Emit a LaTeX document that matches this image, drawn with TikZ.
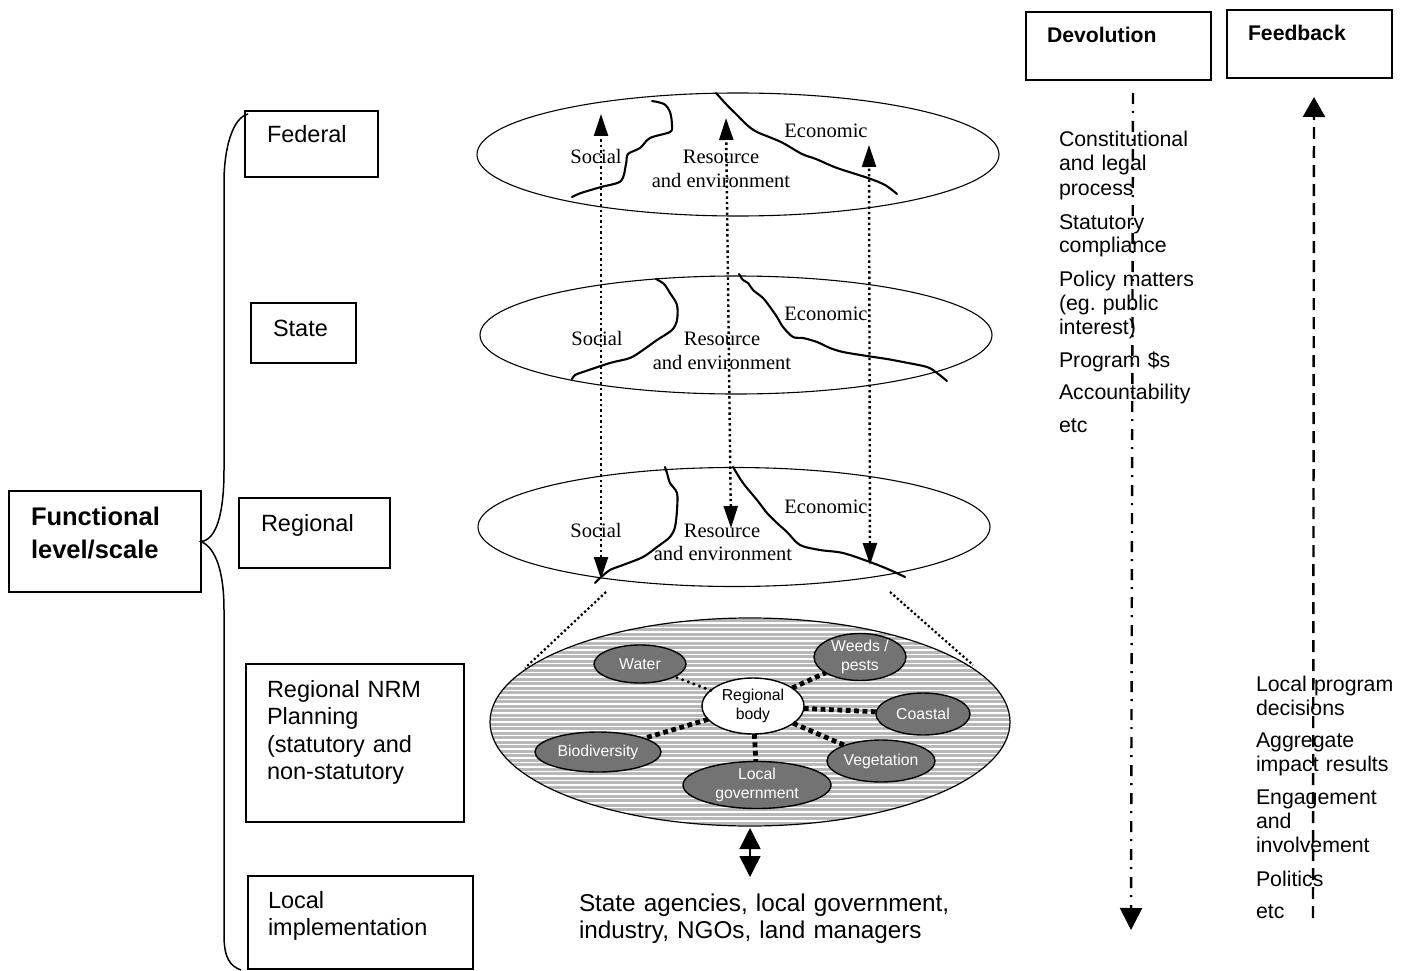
\documentclass[tikz,border=0pt]{standalone}
\usepackage{fontspec}
\setmainfont{Liberation Serif}
\newfontfamily\arialfont{Liberation Sans}
\usetikzlibrary{shapes.geometric,arrows.meta}

\begin{document}
\frenchspacing
\begin{tikzpicture}[x=1pt,y=-1pt,
  every node/.style={inner sep=0pt, outer sep=0pt},
  lvlbox/.style={draw, line width=1.5pt, rectangle},
  boxtext/.style={anchor=base west, align=left, text width=#1,
    font=\arialfont\fontsize{23.5}{27.5}\selectfont},
  boxtext/.default=220pt,
  headtext/.style={anchor=base west, font=\arialfont\bfseries\fontsize{21.2}{24}\selectfont},
  listtext/.style={anchor=base west, align=left, text width=150pt,
    font=\arialfont\fontsize{21.3}{24}\selectfont},
  lvlell/.style={draw, ellipse, line width=1.1pt},
  domtext/.style={anchor=base, font=\fontsize{20.5}{23}\selectfont},
  boundary/.style={line width=2.1pt, line join=round, line cap=round},
  linkarrow/.style={line width=2.4pt, dash pattern=on 2.4pt off 3pt,
    {Triangle[length=22pt,width=14pt]}-{Triangle[length=22pt,width=14pt]}},
  funnel/.style={line width=2.2pt, dash pattern=on 2.2pt off 2.4pt},
  theme/.style={draw, ellipse, line width=1.4pt, fill=black!55, text=white,
    align=center, font=\arialfont\fontsize{15.8}{18.5}\selectfont},
  hub/.style={theme, fill=white, text=black},
  thicklink/.style={line width=4.8pt, dash pattern=on 4.8pt off 3.6pt},
  roundlink/.style={line width=3.4pt, line cap=round, dash pattern=on 0pt off 6pt},
  stripe/.style={line width=3pt, draw=black!28}
]
\useasboundingbox (0,0) rectangle (1406,971);

% ---------- functional levels on the left ----------
\node[lvlbox, minimum width=192pt, minimum height=101pt] (functional) at (105,541.5) {};
\node[anchor=base west, align=left, text width=180pt,
      font=\arialfont\bfseries\fontsize{25.5}{33}\selectfont] (functional-t) at (31,525)
      {Functional\\level/scale};

\node[lvlbox, minimum width=133pt, minimum height=66pt] (federal) at (311.5,144) {};
\node[boxtext] (federal-t) at (267,143) {Federal};

\node[lvlbox, minimum width=105pt, minimum height=60pt] (state) at (303.5,333) {};
\node[boxtext] (state-t) at (273,336) {State};

\node[lvlbox, minimum width=151pt, minimum height=70pt] (regional) at (314.5,533) {};
\node[boxtext] (regional-t) at (261,531) {Regional};

\node[lvlbox, minimum width=218pt, minimum height=158pt] (nrm) at (355,743) {};
\node[boxtext] (nrm-t) at (267,697)
  {Regional NRM\\Planning\\(statutory and\\non-statutory};

\node[lvlbox, minimum width=225pt, minimum height=93pt] (local) at (360.5,922.5) {};
\node[boxtext] (local-t) at (268,908) {Local\\implementation};

% curly bracket gathering the levels
\draw[line width=1.5pt]
  (248,114) .. controls (232,118) and (224,150) .. (224,182)
  -- (224,470) .. controls (224,515) and (216,540) .. (functional.east)
  .. controls (216,548) and (224,572) .. (224,610)
  -- (224,935) .. controls (224,958) and (230,966) .. (241,970);

% ---------- the three policy domains at each level ----------
\node[lvlell, minimum width=522pt, minimum height=123pt] (fedE) at (738,154.5) {};
\node[lvlell, minimum width=512pt, minimum height=118pt] (staE) at (736,335) {};
\node[lvlell, minimum width=512pt, minimum height=119pt] (regE) at (734,527) {};

% federal domains
\draw[boundary] plot[smooth] coordinates {(572,197) (581,193) (601,187) (621,181)
  (626,164) (628,154) (640,148) (650,138) (670,132) (672,125) (670,112) (664,104) (652,101)};
\draw[boundary] plot[smooth] coordinates {(716,93) (726,104) (738,116) (747,125)
  (757,132) (781,142) (802,154) (816,159) (837,168) (868,178) (885,185) (897,194)};
\node[domtext] (fed-soc) at (596,164) {Social};
\node[domtext] (fed-res) at (721,164) {Resource};
\node[domtext] (fed-env) at (721,188) {and environment};
\node[domtext] (fed-eco) at (826,138) {Economic};

% state domains
\draw[boundary] plot[smooth] coordinates {(572,379) (575,375) (583,372) (610,363)
  (630,358) (643,350) (657,340) (672,330) (677,320) (677,305) (670,293) (664,284) (656,279)};
\draw[boundary] plot[smooth] coordinates {(739,274) (743,280) (748,283) (753,290)
  (763,298) (770,307) (777,317) (783,327) (793,337) (803,338) (817,342) (830,348)
  (843,352) (867,356) (887,359) (903,362) (927,367) (937,373) (947,381)};
\node[domtext] (sta-soc) at (597,345) {Social};
\node[domtext] (sta-res) at (722,345) {Resource};
\node[domtext] (sta-env) at (722,369) {and environment};
\node[domtext] (sta-eco) at (826,320) {Economic};

% regional domains
\draw[boundary] plot[smooth] coordinates {(595,583) (600,578) (610,570) (623,565)
  (643,557) (657,547) (670,537) (675,527) (677,510) (677,493) (670,483) (667,473) (665,467)};
\draw[boundary] plot[smooth] coordinates {(733,467) (743,483) (757,500) (767,513)
  (777,523) (787,532) (800,545) (820,550) (843,553) (870,562) (890,570) (905,577)};
\node[domtext] (reg-soc) at (596,537) {Social};
\node[domtext] (reg-res) at (722,537) {Resource};
\node[domtext] (reg-env) at (723,560) {and environment};
\node[domtext] (reg-eco) at (826,513) {Economic};

% links between federal and regional domains
\coordinate (socTop) at (601,114);
\coordinate (socBot) at (601,579);
\coordinate (resTop) at (726,118);
\coordinate (resBot) at (731,528);
\coordinate (ecoTop) at (869,145);
\coordinate (ecoBot) at (870,565);
\draw[linkarrow] (socBot) -- (socTop);
\draw[linkarrow] (resBot) -- (resTop);
\draw[linkarrow] (ecoBot) -- (ecoTop);

% ---------- regional NRM planning ----------
\begin{scope}
  \clip (750,722) ellipse [x radius=260, y radius=104];
  \foreach \yy in {616,620.5,...,830} \draw[stripe] (488,\yy) -- (1012,\yy);
\end{scope}
\node[lvlell, line width=1.2pt, minimum width=520pt, minimum height=208pt] (nrmE) at (750,722) {};

\coordinate (funLtop) at (606,592);
\coordinate (funLbot) at (525,668);
\coordinate (funRtop) at (890,592);
\coordinate (funRbot) at (973,665);
\draw[funnel] (funLtop) -- (funLbot);
\draw[funnel] (funRtop) -- (funRbot);

\node[hub, minimum width=102pt, minimum height=56pt] (rbody) at (753,706) {Regional\\body};
\node[theme, minimum width=92pt, minimum height=38pt] (water) at (640,664) {Water};
\node[theme, minimum width=92pt, minimum height=46pt] (weeds) at (860,657) {Weeds /\\pests};
\node[theme, minimum width=94pt, minimum height=42pt] (coastal) at (923,714) {Coastal};
\node[theme, minimum width=126pt, minimum height=40pt] (biodiv) at (598,752) {Biodiversity};
\node[theme, minimum width=108pt, minimum height=42pt] (veget) at (881,761) {Vegetation};
\node[theme, minimum width=148pt, minimum height=44pt] (localgov) at (757,785) {Local\\government};

\draw[roundlink] (rbody) -- (water);
\draw[thicklink] (rbody) -- (weeds);
\draw[thicklink] (rbody) -- (coastal);
\draw[thicklink] (rbody) -- (veget);
\draw[thicklink] (rbody) -- (localgov);
\draw[thicklink] (rbody) -- (biodiv);

% local implementation partners
\node[anchor=base west, align=left, text width=400pt,
      font=\arialfont\fontsize{24.3}{27}\selectfont] (partners) at (579,911)
  {State agencies, local government,\\industry, NGOs, land managers};
\coordinate (partTop) at (750,828);
\coordinate (partBot) at (750,877);
\draw[line width=1.4pt, {Triangle[length=21pt,width=21pt]}-{Triangle[length=21pt,width=21pt]}]
  (partTop) -- (partBot);

% ---------- devolution and feedback ----------
\node[lvlbox, minimum width=185pt, minimum height=68pt] (devolution) at (1118.5,46) {};
\node[headtext] (devolution-t) at (1047,43) {Devolution};
\node[lvlbox, minimum width=165pt, minimum height=68pt] (feedback) at (1309.5,44) {};
\node[headtext] (feedback-t) at (1248,41) {Feedback};

\coordinate (devS) at (1133,93);
\coordinate (devE) at (1131,930);
\draw[line width=2.4pt, dash pattern=on 11pt off 7pt on 2pt off 8pt,
      -{Triangle[length=22pt,width=22pt]}] (devS) -- (devE);

\coordinate (fbS) at (1313,918);
\coordinate (fbE) at (1314,97);
\draw[line width=2.4pt, dash pattern=on 12pt off 7pt,
      -{Triangle[length=20pt,width=22pt]}] (fbS) -- (fbE);

\node[listtext] (dev1) at (1059,147) {Constitutional\\and legal\\process};
\node[listtext] (dev2) at (1059,229) {Statutory\\compliance};
\node[listtext] (dev3) at (1059,286) {Policy matters\\(eg. public\\interest)};
\node[listtext] (dev4) at (1059,367) {Program \$s};
\node[listtext] (dev5) at (1059,399) {Accountability};
\node[listtext] (dev6) at (1059,432) {etc};

\node[listtext] (fb1) at (1256,691) {Local program\\decisions};
\node[listtext] (fb2) at (1256,747) {Aggregate\\impact results};
\node[listtext] (fb3) at (1256,804) {Engagement\\and\\involvement};
\node[listtext] (fb4) at (1256,886) {Politics};
\node[listtext] (fb5) at (1256,918) {etc};

\end{tikzpicture}
\end{document}
